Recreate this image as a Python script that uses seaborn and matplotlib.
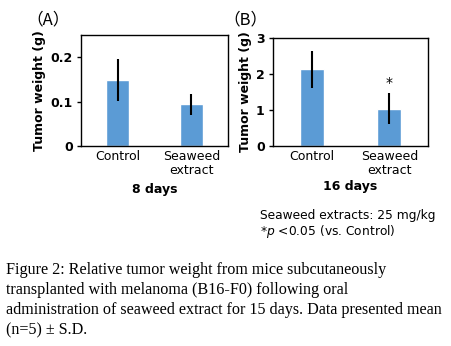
import matplotlib
matplotlib.use("Agg")
import matplotlib.pyplot as plt
import seaborn as sns
import pandas as pd

sns.set_theme(style="white")
plt.rcParams['font.family'] = ['DejaVu Sans']
plt.rcParams['text.color'] = 'black'
plt.rcParams['axes.labelcolor'] = 'black'
plt.rcParams['xtick.color'] = 'black'
plt.rcParams['ytick.color'] = 'black'

categories = ["Control", "Seaweed\nextract"]
means_8 = [0.149, 0.094]
sd_8 = [0.048, 0.024]
means_16 = [2.12, 1.03]
sd_16 = [0.52, 0.42]
yticks_8 = [0, 0.1, 0.2]
ytick_labels_8 = ["0", "0.1", "0.2"]
yticks_16 = [0, 1, 2, 3]
ytick_labels_16 = ["0", "1", "2", "3"]

W, H = 451, 346
fig = plt.figure(figsize=(W / 100, H / 100), dpi=100)

def px_axes(left, top, right, bottom):
    return fig.add_axes([left / W, 1 - bottom / H, (right - left) / W, (bottom - top) / H])

bar_color = "#5B9BD5"

def panel(ax, means, sds, ylim, yticks, ylabels, xlabel, xlabelpad):
    df = pd.DataFrame({"group": categories, "value": means})
    sns.barplot(data=df, x="group", y="value", ax=ax, color=bar_color,
                width=0.31, saturation=1, errorbar=None)
    ax.errorbar(x=list(range(len(categories))), y=means, yerr=sds, fmt="none",
                ecolor="black", elinewidth=1.5, capsize=0)
    ax.set_xlim(-0.5, 1.5)
    ax.set_ylim(*ylim)
    ax.set_yticks(yticks)
    ax.set_yticklabels(ylabels, fontsize=9, fontweight="bold")
    ax.tick_params(axis="y", length=3, width=1, color="black", pad=3, left=True)
    ax.tick_params(axis="x", length=0, pad=3, labelsize=9, labelcolor="black")
    for t in ax.get_xticklabels():
        t.set_linespacing(1.1)
    ax.set_xlabel(xlabel, fontsize=9, fontweight="bold", labelpad=xlabelpad)
    ax.set_ylabel("Tumor weight (g)", fontsize=9, fontweight="bold", labelpad=3)
    for s in ax.spines.values():
        s.set_visible(True)
        s.set_color("black")
        s.set_linewidth(1)
    ax.set_facecolor("white")

axA = px_axes(81, 35, 228, 146)
panel(axA, means_8, sd_8, (0, 0.25), yticks_8, ytick_labels_8, "8 days", 4)
axB = px_axes(273, 37.7, 428, 145.7)
panel(axB, means_16, sd_16, (0, 3), yticks_16, ytick_labels_16, "16 days", 2)

# significance asterisk
axB.text(1, means_16[1] + sd_16[1] + 0.1, "*", ha="center", va="bottom", fontsize=10)

fig.text(26 / W, 1 - 20 / H, "（A）", fontsize=12, va="center", ha="left",
         family=["Noto Sans CJK JP", "DejaVu Sans"])
fig.text(223 / W, 1 - 20 / H, "（B）", fontsize=12, va="center", ha="left",
         family=["Noto Sans CJK JP", "DejaVu Sans"])

fig.text(260 / W, 1 - 215 / H, "Seaweed extracts: 25 mg/kg", fontsize=8.8, va="center", ha="left")
fig.text(260 / W, 1 - 232 / H, r"*$\it{p}$ <0.05 (vs. Control)", fontsize=8.8, va="center", ha="left")

caption = ["Figure 2: Relative tumor weight from mice subcutaneously",
           "transplanted with melanoma (B16-F0) following oral",
           "administration of seaweed extract for 15 days. Data presented mean",
           "(n=5) ± S.D."]
for i, line in enumerate(caption):
    fig.text(6 / W, 1 - (270 + 20 * i) / H, line, fontsize=11.6, va="center", ha="left",
             family="Liberation Serif")

fig.savefig("out.png", dpi=100, facecolor="white")
